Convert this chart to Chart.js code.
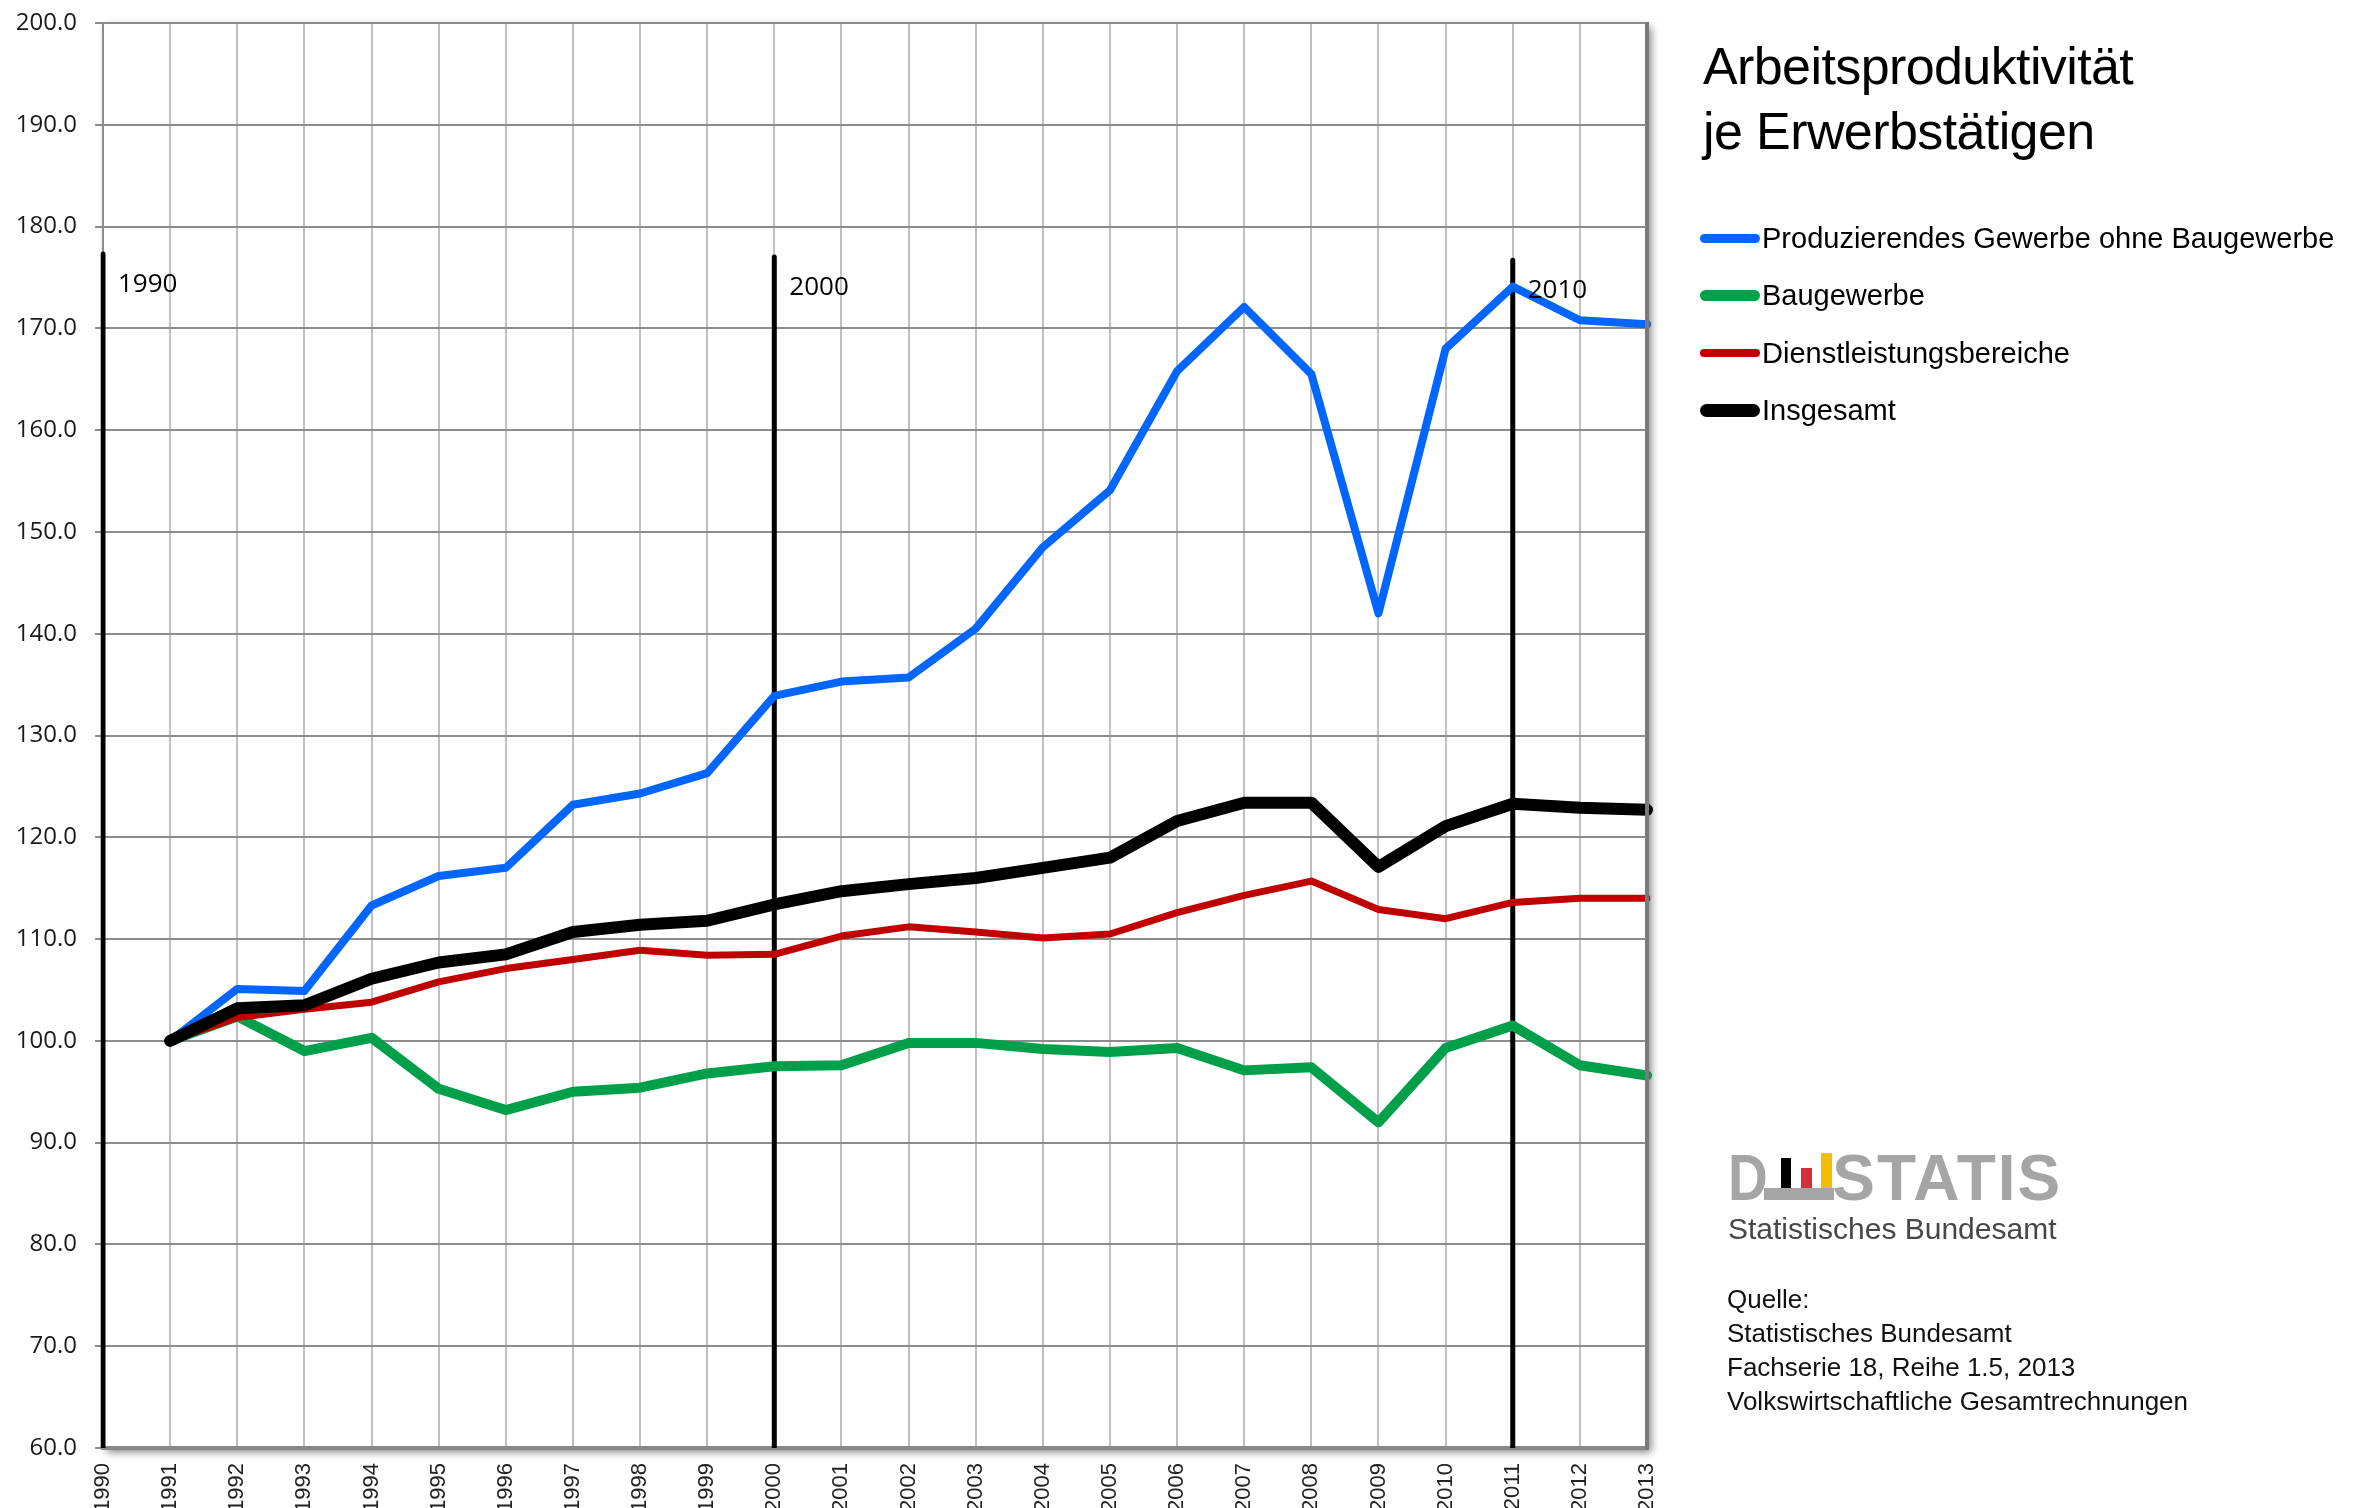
<!DOCTYPE html>
<html lang="de">
<head>
<meta charset="utf-8">
<title>Arbeitsproduktivität je Erwerbstätigen</title>
<script src="https://cdn.jsdelivr.net/npm/chart.js@4.4.1/dist/chart.umd.min.js"></script>
<style>
  html, body { margin: 0; padding: 0; background: #fff; }
  #wrap { position: relative; width: 2369px; height: 1508px; overflow: hidden; }
  #chart { position: absolute; left: 0; top: 0; }
  .side { position: absolute; font-family: "Liberation Sans", Arial, sans-serif; color: #000; white-space: nowrap; }
  #title { left: 1703px; top: 34px; font-size: 52px; line-height: 65px; letter-spacing: -0.6px; }
  #legend { left: 1700px; top: 210px; }
  .item { display: flex; align-items: center; height: 57.3px; font-size: 29px; }
  .swatch { width: 60px; margin-right: 2px; }
  #logo { left: 1728px; top: 1146px; font-size: 64px; line-height: 64px; font-weight: bold; color: #a5a5a5; letter-spacing: 2px; }
  #logo .d { display: inline-block; transform: scaleX(0.86); transform-origin: left center; margin-right: -6px; }
  #logo .gap { display: inline-block; width: 62px; }
  .bar { position: absolute; }
  #amt { left: 1728px; top: 1214px; font-size: 30px; line-height: 30px; color: #474747; }
  #source { left: 1727px; top: 1282px; font-size: 26px; line-height: 34px; color: #111; }
</style>
</head>
<body>
<div id="wrap">
  <canvas id="chart" width="2369" height="1508"></canvas>
  <div id="title" class="side">Arbeitsproduktivität<br>je Erwerbstätigen</div>
  <div id="legend" class="side"></div>
  <div id="logo" class="side"><span class="d">D</span><span class="gap"></span>STATIS</div>
  <div class="bar" style="left:1764px; top:1188px; width:70px; height:12px; background:#a5a5a5;"></div>
  <div class="bar" style="left:1781px; top:1158px; width:10px; height:30px; background:#000;"></div>
  <div class="bar" style="left:1801px; top:1168px; width:11px; height:20px; background:#d42e3a;"></div>
  <div class="bar" style="left:1821px; top:1153px; width:11px; height:35px; background:#f5bd00;"></div>
  <div id="amt" class="side">Statistisches Bundesamt</div>
  <div id="source" class="side">Quelle:<br>Statistisches Bundesamt<br>Fachserie 18, Reihe 1.5, 2013<br>Volkswirtschaftliche Gesamtrechnungen</div>
</div>
<script>
  // Jahre auf der x-Achse
  const years = ['1990', '1991', '1992', '1993', '1994', '1995', '1996', '1997', '1998', '1999', '2000', '2001',
                 '2002', '2003', '2004', '2005', '2006', '2007', '2008', '2009', '2010', '2011', '2012', '2013'];

  // Index 1991 = 100
  const produzierendesGewerbe = [null, 100, 105.1, 104.9, 113.3, 116.2, 117.0, 123.2, 124.3, 126.3, 133.9, 135.3,
                                 135.7, 140.5, 148.5, 154.1, 165.8, 172.1, 165.5, 142.0, 168.0, 174.1, 170.8, 170.4];
  const baugewerbe = [null, 100, 102.4, 99.0, 100.3, 95.3, 93.2, 95.0, 95.4, 96.8, 97.5, 97.6,
                      99.8, 99.8, 99.2, 98.9, 99.3, 97.1, 97.4, 92.0, 99.3, 101.5, 97.6, 96.6];
  const dienstleistungen = [null, 100, 102.3, 103.1, 103.8, 105.8, 107.1, 108.0, 108.9, 108.4, 108.5, 110.3,
                            111.2, 110.7, 110.1, 110.5, 112.6, 114.3, 115.7, 112.9, 112.0, 113.6, 114.0, 114.0];
  const insgesamt = [null, 100, 103.2, 103.5, 106.1, 107.7, 108.5, 110.7, 111.4, 111.8, 113.4, 114.7,
                     115.4, 116.0, 117.0, 118.0, 121.6, 123.4, 123.4, 117.1, 121.1, 123.3, 122.9, 122.7];

  const seriesNames = ['Produzierendes Gewerbe ohne Baugewerbe', 'Baugewerbe', 'Dienstleistungsbereiche', 'Insgesamt'];
  const seriesData = [produzierendesGewerbe, baugewerbe, dienstleistungen, insgesamt];
  const seriesColors = ['#0066ff', '#00a04a', '#c00000', '#000000'];
  const seriesWidths = [8, 10, 7, 12];
  const drawOrder = [3, 2, 1, 0];

  // Jahresmarken (senkrechte Linien) mit Beschriftung
  const markerYears = ['1990', '2000', '2011'];
  const markerTexts = ['1990', '2000', '2010'];
  const markerTops = [177.3, 177.0, 176.7];

  const yMin = 60, yMax = 200, yStep = 10;

  const datasets = seriesNames.map((name, i) => ({
    label: name,
    data: seriesData[i],
    borderColor: seriesColors[i],
    backgroundColor: seriesColors[i],
    borderWidth: seriesWidths[i],
    order: drawOrder[i]
  }));

  markerYears.forEach((yr, i) => {
    datasets.push({
      label: 'marker-' + markerTexts[i],
      data: [{ x: yr, y: markerTops[i] }, { x: yr, y: yMin }],
      borderColor: '#000',
      borderWidth: 5,
      borderCapStyle: 'butt',
      order: 10
    });
  });

  const legend = document.getElementById('legend');
  seriesNames.forEach((name, i) => {
    const row = document.createElement('div');
    row.className = 'item';
    row.innerHTML = '<span class="swatch" style="height:' + (seriesWidths[i] + 1) + 'px;border-radius:' +
      seriesWidths[i] + 'px;background:' + seriesColors[i] + '"></span>' + name;
    legend.appendChild(row);
  });

  const framePlugin = {
    id: 'frame',
    beforeDraw(chart) {
      const { ctx, chartArea: a } = chart;
      ctx.save();
      ctx.shadowColor = 'rgba(0,0,0,0.5)';
      ctx.shadowBlur = 8;
      ctx.shadowOffsetX = 4;
      ctx.shadowOffsetY = 4;
      ctx.fillStyle = '#fff';
      ctx.fillRect(a.left, a.top, a.right - a.left, a.bottom - a.top);
      ctx.restore();
    },
    afterDatasetsDraw(chart) {
      const { ctx, chartArea: a, scales } = chart;
      ctx.save();
      ctx.strokeStyle = '#7a7a7a';
      ctx.lineWidth = 4;
      ctx.beginPath();
      ctx.moveTo(a.right, a.top - 1);
      ctx.lineTo(a.right, a.bottom + 2);
      ctx.stroke();
      ctx.fillStyle = '#000';
      ctx.font = '26px "Open Sans"';
      ctx.textBaseline = 'alphabetic';
      markerYears.forEach((yr, i) => {
        const x = scales.x.getPixelForValue(years.indexOf(yr));
        const y = scales.y.getPixelForValue(markerTops[i]);
        ctx.fillText(markerTexts[i], x + 15, y + 38);
      });
      ctx.restore();
    }
  };

  new Chart(document.getElementById('chart'), {
    type: 'line',
    data: { labels: years, datasets: datasets },
    plugins: [framePlugin],
    options: {
      responsive: false,
      animation: false,
      devicePixelRatio: 1,
      layout: { autoPadding: false, padding: { top: 23, right: 722, left: 0, bottom: 0 } },
      plugins: { legend: { display: false }, tooltip: { enabled: false } },
      elements: {
        point: { radius: 0, hoverRadius: 0 },
        line: { tension: 0, borderCapStyle: 'round', borderJoinStyle: 'round', fill: false }
      },
      scales: {
        x: {
          offset: false,
          grid: { color: '#c0c0c0', lineWidth: 2, drawTicks: false },
          border: { color: '#888888', width: 4 },
          ticks: {
            autoSkip: false, minRotation: 90, maxRotation: 90, padding: 15, color: '#222',
            font: { family: '"Liberation Sans Narrow", "Liberation Sans", Arial', size: 22 }
          },
          afterFit(scale) { scale.height = 60; }
        },
        y: {
          min: yMin, max: yMax,
          grid: { color: '#8c8c8c', lineWidth: 2, tickLength: 8 },
          border: { color: '#8c8c8c', width: 2 },
          ticks: {
            stepSize: yStep, padding: 18, color: '#1a1a1a',
            font: { family: '"Open Sans"', size: 24 },
            callback: v => v.toFixed(1)
          },
          afterFit(scale) {
            scale.width = 103;
            scale.paddingTop = 0;
            scale.paddingBottom = 0;
          }
        }
      }
    }
  });
</script>
</body>
</html>
